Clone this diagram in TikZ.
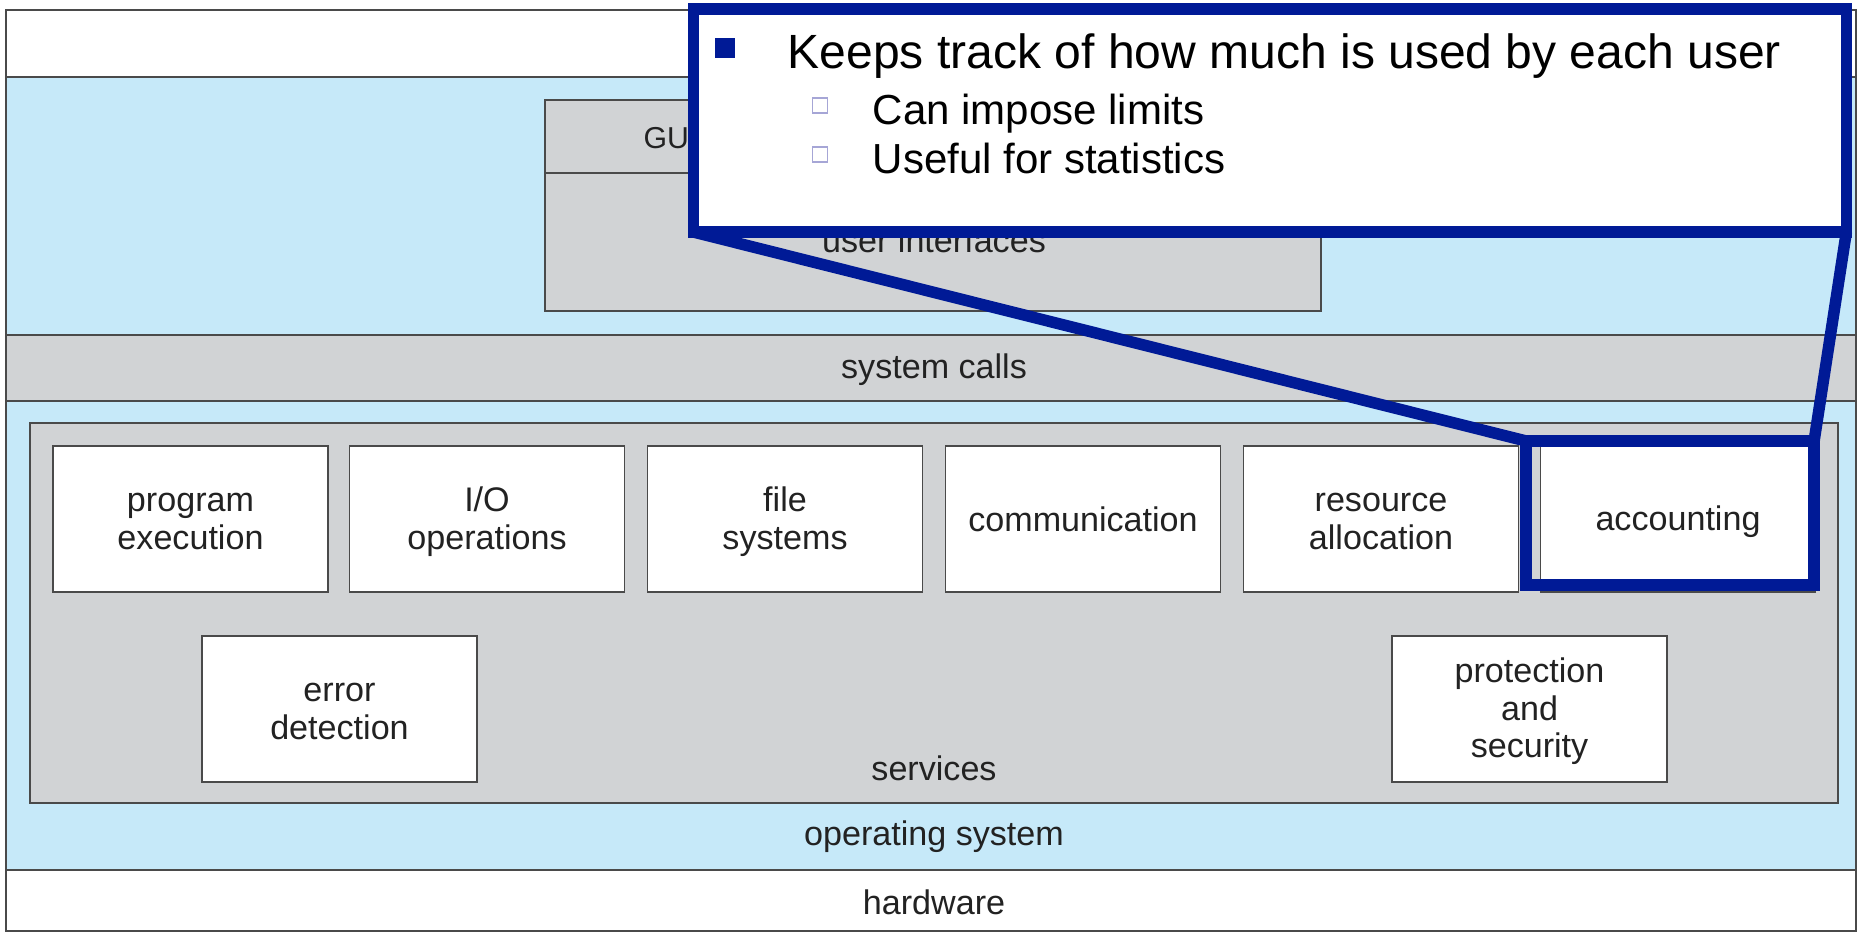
\documentclass[tikz,border=0pt]{standalone}
\usepackage{fontspec}
\setmainfont{Liberation Sans}
\definecolor{osblue}{HTML}{C6E9F9}
\definecolor{osgray}{HTML}{D1D3D5}
\definecolor{navy}{HTML}{001A96}
\definecolor{lav}{HTML}{A6A6D6}
\definecolor{ink}{HTML}{222222}
\definecolor{edge}{HTML}{4A4A4A}
\pgfdeclarelayer{top}
\pgfsetlayers{main,top}
\begin{document}
\begin{tikzpicture}[x=0.01cm,y=-0.01cm,
  band/.style={draw=edge, line width=0.5pt},
  lbl/.style={text=ink, font=\fontsize{9.7}{10.7}\selectfont, inner sep=0, anchor=base},
  svt/.style={align=center, text=ink, font=\fontsize{9.7}{10.7}\selectfont, inner sep=0,
    yshift=-0.025cm},
  svc/.style={draw=edge, line width=0.5pt, fill=white, minimum width=2.75cm,
    minimum height=1.46cm, inner sep=0, outer sep=0},
  hlt/.style={draw=navy, line width=0.115cm, minimum width=2.88cm, minimum height=1.44cm,
    inner sep=0, outer sep=0},
  pointer/.style={draw=navy, line width=0.115cm},
  calloutbox/.style={draw=navy, fill=white, line width=0.115cm, minimum width=11.52cm,
    minimum height=2.23cm, inner sep=0, outer sep=0},
  mainbul/.style={fill=navy, minimum size=0.2cm, inner sep=0},
  subbul/.style={draw=lav, fill=white, line width=0.5pt, minimum size=0.15cm, inner sep=0},
  maintxt/.style={anchor=base west, inner sep=0, font=\fontsize{13.66}{16}\selectfont},
  subtxt/.style={anchor=base west, inner sep=0, font=\fontsize{11.95}{14}\selectfont}
]
\useasboundingbox (0,0) rectangle (1858,933);
\fill[white] (0,0) rectangle (1858,933);

% layers of the system
\draw[band, fill=white] (6,10) rectangle (1856,77);
\draw[band, fill=osblue] (6,77) rectangle (1856,335);
\draw[band, fill=osgray] (6,335) rectangle (1856,401);
\draw[band, fill=osblue] (6,401) rectangle (1856,870);
\draw[band, fill=white] (6,870) rectangle (1856,931);
\draw[band, fill=osgray] (30,423) rectangle (1838,803);
\draw[band, fill=osgray] (545,100) rectangle (1321,311);
\draw[band] (545,173) -- (1321,173);

\node[lbl, anchor=base west, font=\fontsize{8.6}{10}\selectfont] (gui) at (643,148) {GUI};
\node[lbl] (ui) at (934,252) {user interfaces};
\node[lbl] (sc) at (934,378) {system calls};
\node[lbl] (sv) at (934,780) {services};
\node[lbl] (os) at (934,845) {operating system};
\node[lbl] (hw) at (934,914) {hardware};

% service boxes
\node[svc, label={[svt]center:{program\\execution}}] (pe) at (190.5,519) {};
\node[svc, label={[svt]center:{I/O\\operations}}] (io) at (487,519) {};
\node[svc, label={[svt]center:{file\\systems}}] (fs) at (785,519) {};
\node[svc, label={[svt, yshift=0.025cm]center:{communication}}] (cm) at (1083,519) {};
\node[svc, label={[svt]center:{resource\\allocation}}] (ra) at (1381,519) {};
\node[svc, label={[svt]center:{accounting}}] (ac) at (1678,519) {};
\node[svc, label={[svt]center:{error\\detection}}] (ed) at (339.5,709) {};
\node[svc, label={[svt]center:{protection\\and\\security}}] (ps) at (1529.5,709) {};

% highlight and callout
\node[hlt] (hl) at (1670,513) {};
\begin{pgfonlayer}{top}
\node[calloutbox] (co) at (1270,120.5) {};
\node[mainbul] (b0) at (725,48) {};
\node[maintxt] (t0) at (787,68) {Keeps track of how much is used by each user};
\node[subbul] (b1) at (820,105.5) {};
\node[subtxt] (t1) at (872,124) {Can impose limits};
\node[subbul] (b2) at (820,154.5) {};
\node[subtxt] (t2) at (872,173) {Useful for statistics};
\end{pgfonlayer}
\draw[pointer] (co.south west) -- (hl.north west);
\draw[pointer] (co.south east) -- (hl.north east);
\end{tikzpicture}
\end{document}
